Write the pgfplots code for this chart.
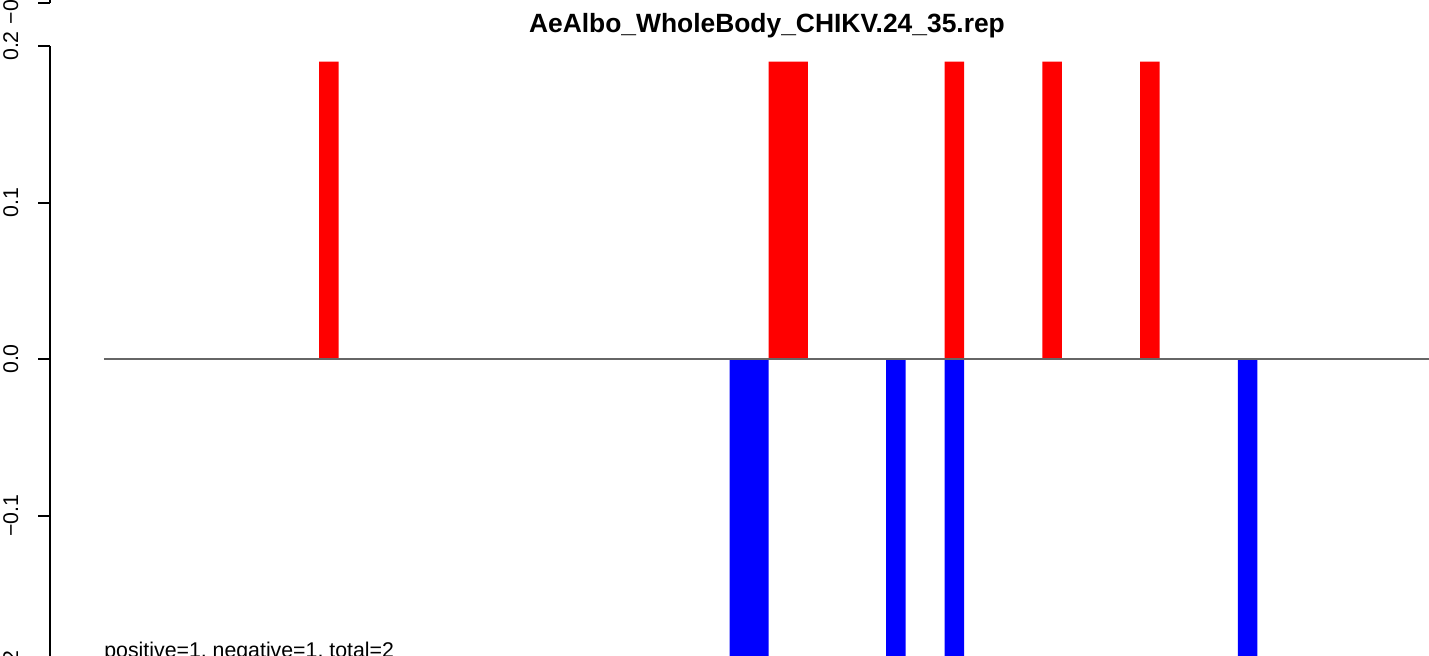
\documentclass[border=0pt]{standalone}
\usepackage{fontspec}
\setmainfont{Liberation Sans}
\usepackage{pgfplots}
\pgfplotsset{compat=1.18}
\begin{document}
\fontsize{10.65}{12.8}\selectfont
\begin{tikzpicture}
\path[use as bounding box] (0,0) rectangle (714.5pt,327.5pt);
\clip (0,0) rectangle (714.5pt,327.5pt);
\pgfplotsset{rstyle/.style={
  x=9.775pt, y=782.5pt,
  xmin=-2.762, xmax=68.34, ymin=-0.2, ymax=0.2,
  axis x line=none, axis y line*=left,
  tick align=outside, major tick length=6pt,
  axis line style={line width=1pt, black},
  every tick/.style={line width=1pt, black},
  yticklabel shift=10pt,
  yticklabel style={rotate=90, anchor=base, inner sep=0pt, font=\fontsize{10.65}{12.8}\selectfont},
  clip=false,
}}
\begin{axis}[rstyle,
  at={(25pt,-8.5pt)}, anchor=south west,
  ytick={-0.2,-0.1,0,0.1,0.2},
  yticklabels={−0.2,−0.1,0.0,0.1,0.2},
]
\addplot[ybar, bar width=1, bar shift=0pt, fill=red, draw=none]
  coordinates {(11.5,0.19) (34.5,0.19) (35.5,0.19) (43.5,0.19) (48.5,0.19) (53.5,0.19)};
\addplot[ybar, bar width=1, bar shift=0pt, fill=blue, draw=none]
  coordinates {(32.5,-0.19) (33.5,-0.19) (40.5,-0.19) (43.5,-0.19) (58.5,-0.19)};
\addplot[black!60, line width=0.6pt] coordinates {(0,0) (68.34,0)};
\node[anchor=base, font=\fontsize{13.2}{15}\selectfont\bfseries] at (axis cs:33.91,0.2) [yshift=6.5pt] {AeAlbo\_WholeBody\_CHIKV.24\_35.rep};
\node[anchor=base west, inner sep=0pt] at (axis cs:0,-0.191) {positive=1, negative=1, total=2};
\end{axis}
\begin{axis}[rstyle,
  at={(25pt,326pt)}, anchor=south west,
  ytick={-0.2}, yticklabels={−0.2},
]
\addplot[draw=none] coordinates {(0,0)};
\end{axis}
\end{tikzpicture}
\end{document}
